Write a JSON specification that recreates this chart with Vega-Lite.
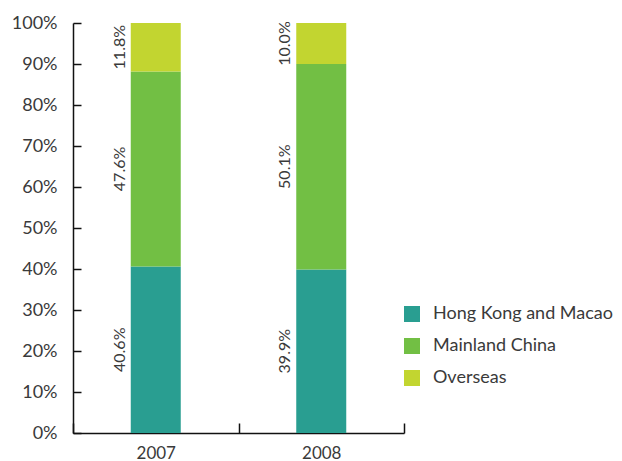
{
  "$schema": "https://vega.github.io/schema/vega-lite/v6.json",
  "width": 331,
  "height": 410,
  "autosize": "none",
  "padding": {"left": 73, "top": 23, "right": 218, "bottom": 28},
  "config": {
    "view": {"stroke": null},
    "font": "Lato",
    "axis": {"labelFont": "Lato", "labelFontSize": 18, "labelColor": "#3a3a3a", "domainColor": "#111111", "tickColor": "#111111", "domainWidth": 1.5, "tickWidth": 1.5, "grid": false, "title": null},
    "legend": {"labelFont": "Lato", "labelFontSize": 18, "labelColor": "#3a3a3a"}
  },
  "data": {
    "values": [
      {"year": "2007", "region": "Hong Kong and Macao", "share": 0.406},
      {"year": "2007", "region": "Mainland China", "share": 0.476},
      {"year": "2007", "region": "Overseas", "share": 0.118},
      {"year": "2008", "region": "Hong Kong and Macao", "share": 0.399},
      {"year": "2008", "region": "Mainland China", "share": 0.501},
      {"year": "2008", "region": "Overseas", "share": 0.100}
    ]
  },
  "transform": [
    {"stack": "share", "groupby": ["year"], "sort": [{"field": "region", "order": "ascending"}], "as": ["y0", "y1"]},
    {"calculate": "(datum.y0 + datum.y1) / 2", "as": "ymid"}
  ],
  "layer": [
    {
      "mark": {"type": "bar", "width": 50},
      "encoding": {
        "x": {"field": "year", "type": "nominal", "scale": {"paddingInner": 0, "paddingOuter": 0},
          "axis": {"labelAngle": 0, "tickBand": "extent", "tickSize": -10, "labelPadding": 22, "labelFontSize": 17}},
        "y": {"field": "y0", "type": "quantitative", "scale": {"domain": [0, 1], "nice": false},
          "axis": {"values": [0, 0.1, 0.2, 0.3, 0.4, 0.5, 0.6, 0.7, 0.8, 0.9, 1], "format": ".0%", "tickSize": -8, "labelPadding": 24}},
        "y2": {"field": "y1"},
        "color": {"field": "region", "type": "nominal",
          "scale": {"domain": ["Hong Kong and Macao", "Mainland China", "Overseas"], "range": ["#299E91", "#72BF44", "#C2D530"]},
          "legend": {"title": null, "orient": "none", "legendX": 330, "legendY": 282, "symbolType": "square", "symbolSize": 256, "symbolStrokeWidth": 0, "symbolOpacity": 1, "rowPadding": 14, "labelOffset": 12, "labelLimit": 300}}
      }
    },
    {
      "mark": {"type": "text", "angle": 270, "align": "center", "baseline": "alphabetic", "xOffset": -31, "fontSize": 16, "font": "Lato", "color": "#3a3a3a"},
      "encoding": {
        "x": {"field": "year", "type": "nominal"},
        "y": {"field": "ymid", "type": "quantitative"},
        "text": {"field": "share", "type": "quantitative", "format": ".1%"}
      }
    }
  ]
}
